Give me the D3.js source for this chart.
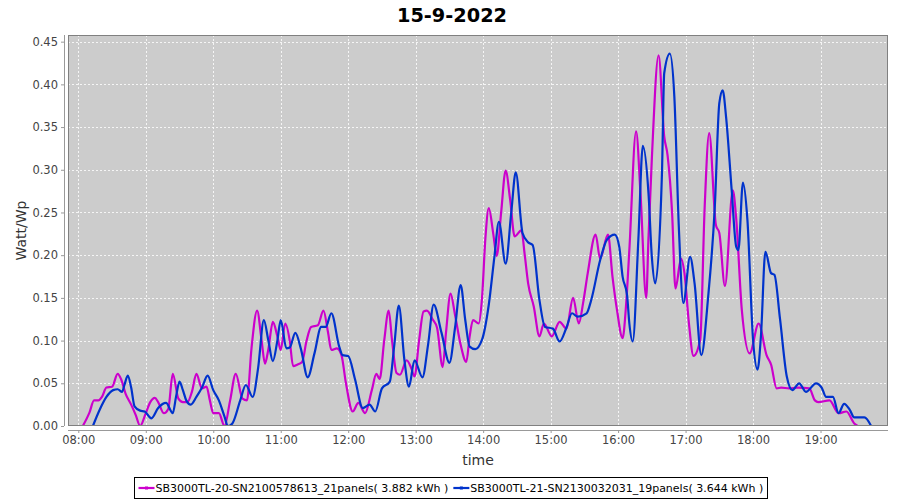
<!DOCTYPE html>
<html>
<head>
<meta charset="utf-8">
<script src="https://cdn.jsdelivr.net/npm/d3@7"></script>
<style>
  html, body { margin: 0; padding: 0; background: #ffffff; }
  svg { display: block; }
  text { font-family: "DejaVu Sans", sans-serif; }
</style>
</head>
<body>
<svg id="chart" width="900" height="500"></svg>
<script>
// ---------------- DATA ----------------
const chartTitle = "15-9-2022";
const xAxisTitle = "time";
const yAxisTitle = "Watt/Wp";
const seriesNames = [
  "SB3000TL-20-SN2100578613_21panels( 3.882 kWh )",
  "SB3000TL-21-SN2130032031_19panels( 3.644 kWh )"
];
const seriesColors = ["#cc00cc", "#0033cc"];
const xTickLabels = ["08:00","09:00","10:00","11:00","12:00","13:00","14:00","15:00","16:00","17:00","18:00","19:00"];
const yTickValues = [0.00,0.05,0.10,0.15,0.20,0.25,0.30,0.35,0.40,0.45];

const timesA = ["08:04","08:10","08:14","08:18","08:21","08:25","08:30","08:35","08:38","08:42","08:47","08:51","08:55",
  "09:00","09:04","09:08","09:11","09:16","09:20","09:24","09:29","09:33","09:37","09:41","09:45","09:50","09:54","09:57",
  "10:00","10:05","10:10","10:15","10:20","10:26","10:30","10:34","10:39","10:43","10:46","10:49","10:53","10:57",
  "11:00","11:04","11:08","11:11","11:15","11:19","11:23","11:27","11:33","11:38","11:42","11:45","11:50","11:54","11:58",
  "12:04","12:09","12:15","12:21","12:25","12:28","12:32","12:36","12:39","12:43","12:46","12:52","12:56","12:59",
  "13:03","13:07","13:10","13:15","13:19","13:24","13:27","13:31","13:35","13:40","13:45","13:48","13:51","13:56","13:59",
  "14:02","14:05","14:09","14:12","14:16","14:20","14:24","14:28","14:34","14:37","14:40","14:45","14:50","14:54",
  "15:01","15:08","15:14","15:20","15:25","15:29","15:33","15:40","15:44","15:51","15:55","15:59",
  "16:04","16:07","16:10","16:16","16:20","16:25","16:27","16:30","16:36","16:41","16:44","16:48","16:51","16:56","16:59",
  "17:03","17:07","17:13","17:17","17:21","17:27","17:30","17:35","17:42","17:45","17:50","17:57",
  "18:05","18:12","18:16","18:21","18:25","18:32","18:40","18:50","18:55","18:58",
  "19:08","19:16","19:23","19:30","19:33"];
const valuesA = [0.000,0.016,0.030,0.030,0.034,0.045,0.046,0.061,0.055,0.038,0.025,0.013,0.000,
  0.015,0.028,0.033,0.028,0.015,0.020,0.061,0.032,0.028,0.028,0.040,0.061,0.044,0.046,0.030,
  0.015,0.015,0.000,0.030,0.061,0.032,0.030,0.091,0.135,0.100,0.073,0.090,0.122,0.105,
  0.089,0.120,0.100,0.070,0.072,0.075,0.100,0.116,0.118,0.135,0.110,0.089,0.091,0.083,0.050,
  0.017,0.027,0.015,0.042,0.061,0.055,0.100,0.135,0.100,0.062,0.060,0.077,0.068,0.058,
  0.100,0.134,0.135,0.125,0.115,0.069,0.110,0.155,0.130,0.095,0.075,0.105,0.124,0.120,0.150,
  0.220,0.255,0.225,0.199,0.250,0.299,0.265,0.222,0.229,0.200,0.167,0.140,0.105,0.120,
  0.105,0.122,0.114,0.150,0.120,0.145,0.179,0.224,0.196,0.224,0.175,0.136,
  0.103,0.140,0.206,0.345,0.270,0.150,0.220,0.313,0.434,0.339,0.317,0.250,0.161,0.196,0.179,
  0.120,0.082,0.101,0.257,0.343,0.235,0.226,0.164,0.276,0.243,0.136,0.085,
  0.120,0.083,0.072,0.044,0.045,0.044,0.045,0.044,0.030,0.028,
  0.030,0.015,0.017,0.003,0.000];

const timesB = ["08:13","08:19","08:25","08:31","08:35","08:39","08:41","08:44","08:47","08:50","08:55","08:59",
  "09:05","09:11","09:18","09:24","09:27","09:30","09:33","09:36","09:40","09:45","09:50","09:55",
  "10:00","10:05","10:10","10:13","10:17","10:24","10:29","10:35","10:40","10:45","10:49","10:53","10:57",
  "11:00","11:05","11:08","11:13","11:18","11:24","11:30","11:36","11:40","11:45","11:52","11:55",
  "12:00","12:06","12:13","12:19","12:24","12:30","12:37","12:41","12:45","12:50","12:54","12:59",
  "13:06","13:11","13:16","13:23","13:30","13:35","13:40","13:44","13:48","13:53","13:59",
  "14:05","14:10","14:14","14:20","14:25","14:29","14:35","14:40","14:44","14:50","14:55",
  "15:02","15:08","15:14","15:19","15:24","15:32","15:36","15:44","15:50","15:57",
  "16:01","16:04","16:08","16:10","16:13","16:18","16:22","16:27","16:30","16:33","16:39","16:41","16:46","16:50","16:54","16:58",
  "17:04","17:08","17:14","17:20","17:26","17:30","17:33","17:36","17:41","17:45","17:47","17:51","17:55",
  "18:00","18:04","18:07","18:11","18:16","18:19","18:24","18:30","18:35","18:41","18:47","18:56",
  "19:01","19:05","19:11","19:16","19:21","19:26","19:30","19:39","19:45"];
const valuesB = [0.000,0.019,0.034,0.042,0.043,0.040,0.048,0.059,0.045,0.023,0.018,0.017,
  0.009,0.021,0.027,0.015,0.035,0.052,0.042,0.030,0.025,0.034,0.045,0.059,
  0.042,0.030,0.011,0.000,0.003,0.030,0.048,0.034,0.069,0.124,0.100,0.076,0.100,
  0.124,0.091,0.092,0.109,0.090,0.057,0.085,0.116,0.116,0.132,0.093,0.083,
  0.082,0.055,0.021,0.025,0.017,0.044,0.052,0.095,0.141,0.077,0.046,0.077,
  0.057,0.095,0.142,0.109,0.074,0.115,0.165,0.125,0.093,0.090,0.101,
  0.142,0.198,0.239,0.190,0.250,0.297,0.226,0.215,0.212,0.148,0.116,
  0.114,0.099,0.115,0.132,0.128,0.132,0.147,0.194,0.218,0.224,
  0.210,0.175,0.153,0.120,0.099,0.218,0.328,0.273,0.198,0.167,0.296,0.413,0.436,0.386,0.233,0.144,
  0.198,0.167,0.083,0.150,0.257,0.378,0.393,0.362,0.276,0.210,0.206,0.285,0.241,
  0.101,0.066,0.105,0.204,0.179,0.177,0.125,0.058,0.042,0.050,0.040,0.050,
  0.045,0.034,0.034,0.015,0.026,0.019,0.010,0.010,0.000];

// ---------------- LAYOUT ----------------
const plot = { left: 68, right: 888, top: 35, bottom: 426 };
const axisOffset = 4;

const parseT = s => { const [h, m] = s.split(":").map(Number); return new Date(2022, 8, 15, h, m); };
const mkSeries = (ts, vs) => ts.map((t, i) => ({ t: parseT(t), v: vs[i] }));
const series = [mkSeries(timesA, valuesA), mkSeries(timesB, valuesB)];

const x = d3.scaleTime()
  .domain([new Date(2022, 8, 15, 7, 50, 50), new Date(2022, 8, 15, 20, 0, 0)])
  .range([plot.left, plot.right]);
const y = d3.scaleLinear().domain([0, 0.4578]).range([plot.bottom, plot.top]);

const svg = d3.select("#chart");

// Title
svg.append("text").attr("x", 452).attr("y", 22).attr("text-anchor", "middle")
  .attr("font-size", 20).attr("font-weight", "bold").attr("fill", "#000")
  .attr("textLength", 110).attr("lengthAdjust", "spacingAndGlyphs").text(chartTitle);

// Plot background
svg.append("rect").attr("x", plot.left).attr("y", plot.top)
  .attr("width", plot.right - plot.left).attr("height", plot.bottom - plot.top)
  .attr("fill", "#cccccc");

const xTicks = xTickLabels.map(parseT);

// Gridlines
const grid = svg.append("g").attr("stroke", "#ffffff").attr("stroke-width", 0.8).attr("stroke-dasharray", "2,2");
grid.selectAll("line.v").data(xTicks).join("line")
  .attr("x1", d => Math.round(x(d)) + 0.5).attr("x2", d => Math.round(x(d)) + 0.5)
  .attr("y1", plot.top).attr("y2", plot.bottom);
grid.selectAll("line.h").data(yTickValues.filter(v => v > 0)).join("line")
  .attr("x1", plot.left).attr("x2", plot.right)
  .attr("y1", d => Math.round(y(d)) + 0.5).attr("y2", d => Math.round(y(d)) + 0.5);

// Lines
const defs = svg.append("defs");
defs.append("clipPath").attr("id", "clip").append("rect")
  .attr("x", plot.left).attr("y", plot.top)
  .attr("width", plot.right - plot.left).attr("height", plot.bottom - plot.top);

const line = d3.line().x(d => x(d.t)).y(d => y(Math.max(0, d.v)))
  .curve(d3.curveMonotoneX);
const lines = svg.append("g").attr("clip-path", "url(#clip)");
series.forEach((s, i) => {
  lines.append("path").datum(s).attr("d", line)
    .attr("fill", "none").attr("stroke", seriesColors[i]).attr("stroke-width", 2.2)
    .attr("stroke-linejoin", "round");
});

// Plot border
svg.append("rect").attr("x", plot.left + 0.5).attr("y", plot.top + 0.5)
  .attr("width", plot.right - plot.left - 1).attr("height", plot.bottom - plot.top - 1)
  .attr("fill", "none").attr("stroke", "#808080").attr("stroke-width", 1);

// Y axis
const yAxis = d3.axisLeft(y).tickValues(yTickValues).tickFormat(d3.format(".2f")).tickSize(3).tickPadding(3);
const gy = svg.append("g").attr("transform", `translate(${plot.left - axisOffset},0)`).call(yAxis);
gy.select(".domain").attr("stroke", "#999").attr("d", `M0.5,${plot.top}V${plot.bottom}`);
gy.selectAll(".tick line").attr("stroke", "#999");
gy.selectAll(".tick text").attr("fill", "#444").attr("font-size", 11.5).attr("font-family", "DejaVu Sans, sans-serif");

// X axis
const xAxis = d3.axisBottom(x).tickValues(xTicks).tickFormat((d, i) => xTickLabels[i]).tickSize(3).tickPadding(3);
const gx = svg.append("g").attr("transform", `translate(0,${plot.bottom + axisOffset})`).call(xAxis);
gx.select(".domain").attr("stroke", "#999").attr("d", `M${plot.left},0.5H${plot.right}`);
gx.selectAll(".tick line").attr("stroke", "#999");
gx.selectAll(".tick text").attr("fill", "#444").attr("font-size", 11.5).attr("font-family", "DejaVu Sans, sans-serif");

// Axis titles
svg.append("text").attr("x", (plot.left + plot.right) / 2).attr("y", 465).attr("text-anchor", "middle")
  .attr("font-size", 14).attr("fill", "#333").text(xAxisTitle);
svg.append("text").attr("transform", `translate(26,${(plot.top + plot.bottom) / 2}) rotate(-90)`)
  .attr("text-anchor", "middle").attr("font-size", 14).attr("fill", "#333").text(yAxisTitle);

// Legend
const legendBox = svg.append("rect").attr("fill", "#fff").attr("stroke", "#000");
const legend = svg.append("g");
const items = [];
seriesNames.forEach((name, i) => {
  const g = legend.append("g");
  g.append("line").attr("x1", 0).attr("x2", 16).attr("y1", 0).attr("y2", 0)
    .attr("stroke", seriesColors[i]).attr("stroke-width", 2.2);
  g.append("rect").attr("x", 6.5).attr("y", -1.5).attr("width", 3).attr("height", 3).attr("fill", seriesColors[i]);
  const t = g.append("text").attr("x", 17).attr("y", 4).attr("font-size", 11).attr("fill", "#000").text(name);
  const w = 17 + t.node().getComputedTextLength();
  items.push({ g, w });
});
const gap = 5;
const totalW = items.reduce((a, b) => a + b.w, 0) + gap * (items.length - 1);
const boxPad = 4;
const boxW = totalW + boxPad * 2;
const boxX = Math.round(450.5 - boxW / 2) + 0.5;
const boxY = 477.5, boxH = 21;
legendBox.attr("x", boxX).attr("y", boxY).attr("width", Math.round(boxW)).attr("height", boxH);
let cx = boxX + boxPad;
items.forEach(it => { it.g.attr("transform", `translate(${cx},${boxY + boxH / 2})`); cx += it.w + gap; });
</script>
</body>
</html>
